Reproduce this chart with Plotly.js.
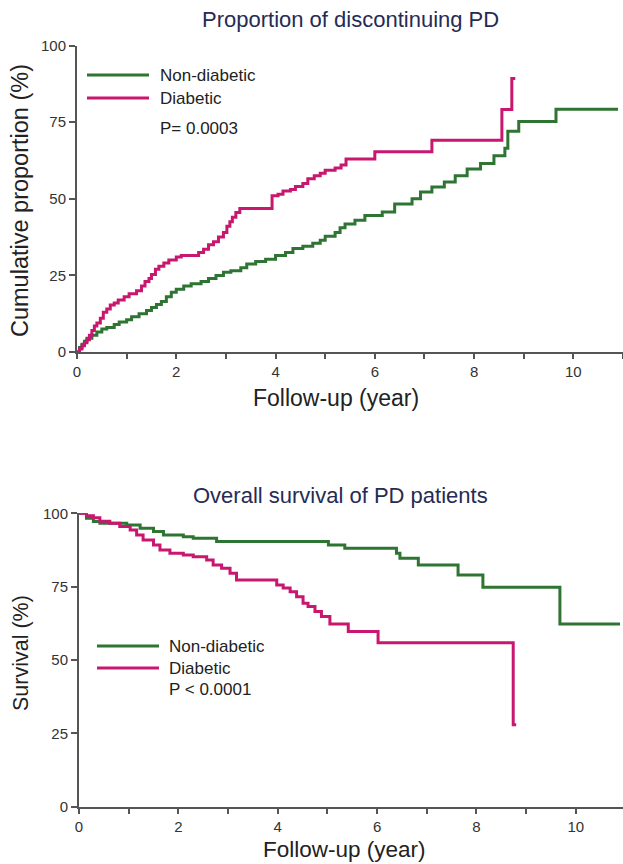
<!DOCTYPE html>
<html>
<head>
<meta charset="utf-8">
<script src="https://cdn.plot.ly/plotly-3.0.1.min.js"></script>
<style>html,body{margin:0;padding:0;background:#fff;}#chart{width:623px;height:864px;}</style>
</head>
<body>
<div id="chart"></div>
<script>
// ---- Top panel: cumulative proportion discontinuing PD (%) ----
var discNonDiabTime = [0,0.05,0.1,0.15,0.2,0.3,0.4,0.5,0.6,0.75,0.85,1.0,1.1,1.25,1.4,1.5,1.6,1.7,1.8,1.9,2.0,2.15,2.3,2.5,2.65,2.8,2.95,3.1,3.3,3.42,3.6,3.8,4.0,4.2,4.35,4.55,4.75,4.9,5.0,5.2,5.3,5.4,5.6,5.8,6.15,6.4,6.75,6.92,7.15,7.4,7.62,7.86,8.13,8.4,8.62,8.68,8.9,9.65,10.9];
var discNonDiabVal  = [0,1.5,2.5,3.5,4.5,5.5,6.5,7.5,8,9,9.8,10.5,11.5,12.5,13.5,14.5,15.5,16.5,18,19.5,20.5,21.5,22.3,23,24,25,26,26.5,27.5,28.7,29.5,30.3,31.5,32.5,33.8,34.5,35.5,36.5,37.8,39,40.5,41.8,43,44.5,45.7,48.3,50,52.2,53.8,55.5,57.5,59.7,61.5,64,66.5,72,75.2,79.2,79.2];

var discDiabTime = [0,0.05,0.1,0.15,0.2,0.25,0.3,0.35,0.4,0.47,0.53,0.6,0.67,0.75,0.83,0.95,1.05,1.2,1.3,1.37,1.45,1.5,1.58,1.65,1.75,1.85,2.0,2.1,2.45,2.55,2.65,2.75,2.85,2.95,3.02,3.08,3.13,3.2,3.28,3.93,4.05,4.15,4.3,4.4,4.55,4.65,4.78,4.9,5.0,5.2,5.32,5.42,6.0,7.15,8.56,8.76,8.83];
var discDiabVal  = [0,1,2,3,4,5.5,7,8.5,9.5,11,13,14,15.3,16,17,18,19,20,21.5,23,24,25.3,27,28,29,30,31,31.5,32.5,33.5,35,36,37.5,39,41,42.5,44,45.5,46.8,51,51.5,52.5,53,54,55,56.5,57.5,58.3,59.3,60,61,63,65.3,69.1,79.1,89.2,89.2];

// ---- Bottom panel: overall survival (%) ----
var survNonDiabTime = [0,0.15,0.29,0.42,0.96,1.23,1.5,1.7,2.1,2.3,2.77,5.02,5.35,6.39,6.46,6.83,7.63,8.13,9.68,10.89];
var survNonDiabVal  = [100,98.3,97.2,96.6,96,94.9,93.8,92.6,92,91.5,90.4,89.2,88.1,86.4,84.7,82.4,79,74.8,62.3,62.3];

var survDiabTime = [0,0.15,0.29,0.42,0.62,0.82,1.03,1.16,1.29,1.5,1.63,1.83,2.1,2.3,2.57,2.7,2.87,3.04,3.17,3.98,4.11,4.25,4.38,4.51,4.61,4.75,4.88,5.05,5.42,6.02,8.74,8.8];
var survDiabVal  = [100,99.2,98.5,97.3,96.6,95.5,94.3,92.6,90.9,89.2,87.5,86.4,85.8,85.2,84.1,82.4,81.3,79.6,77.3,75.6,74.5,73.3,71.6,69.3,68.2,66.5,64.8,62.3,59.7,55.9,27.9,27.9];

var seriesNames = ["Non-diabetic", "Diabetic"];
var xTickVals = [0,1,2,3,4,5,6,7,8,9,10,11];
var xTickText = ["0","","2","","4","","6","","8","","10",""];
var yTickVals = [0,25,50,75,100];
var yTickText = ["0","25","50","75","100"];
var titles = ["Proportion of discontinuing PD", "Overall survival of PD patients"];
var yTitles = ["Cumulative proportion (%)", "Survival (%)"];
var xTitle = "Follow-up (year)";
var pTexts = ["P= 0.0003", "P < 0.0001"];

var GREEN = "#2e7432";
var PINK = "#c9166f";
var FONT = "Liberation Sans, Arial, sans-serif";
var W = 623, H = 864;
function px(x){ return x / W; }
function py(y){ return (H - y) / H; }

function trace(x, y, color, xa, ya, name){
  return {x: x, y: y, type: "scatter", mode: "lines", name: name,
    line: {color: color, width: 3, shape: "hv"}, xaxis: xa, yaxis: ya,
    cliponaxis: false, showlegend: false, hoverinfo: "skip"};
}

var data = [
  trace(discNonDiabTime, discNonDiabVal, GREEN, "x", "y", seriesNames[0]),
  trace(discDiabTime, discDiabVal, PINK, "x", "y", seriesNames[1]),
  trace(survNonDiabTime, survNonDiabVal, GREEN, "x2", "y2", seriesNames[0]),
  trace(survDiabTime, survDiabVal, PINK, "x2", "y2", seriesNames[1])
];

function xaxis(domain, range, anchor){
  return {domain: domain, range: range, anchor: anchor, showgrid: false, zeroline: false,
    showline: true, linecolor: "#555", linewidth: 2, ticks: "outside", ticklen: 5, tickwidth: 2,
    tickcolor: "#555", tickmode: "array", tickvals: xTickVals, ticktext: xTickText,
    tickfont: {family: FONT, size: 15, color: "#333"}, fixedrange: true};
}
function yaxis(domain, anchor){
  return {domain: domain, range: [0, 100], anchor: anchor, showgrid: false, zeroline: false,
    showline: true, linecolor: "#555", linewidth: 2, ticks: "outside", ticklen: 6, tickwidth: 2,
    tickcolor: "#555", tickmode: "array", tickvals: yTickVals, ticktext: yTickText,
    tickfont: {family: FONT, size: 15, color: "#333"}, fixedrange: true};
}

var ann = [];
function txt(text, x, y, size, color, anchor, angle){
  ann.push({text: text, xref: "paper", yref: "paper", x: px(x), y: py(y),
    xanchor: anchor || "center", yanchor: "middle", showarrow: false, textangle: angle || 0,
    font: {family: FONT, size: size, color: color}});
}
txt(titles[0], 350, 20, 22, "#262b55");
txt(titles[1], 340, 495, 22, "#262b55");
txt(yTitles[0], 20, 201, 23.5, "#222", "center", -90);
txt(yTitles[1], 21, 653, 21.5, "#222", "center", -90);
txt(xTitle, 336, 398, 23, "#222");
txt(xTitle, 344, 849, 22.5, "#222");
// legends
txt(seriesNames[0], 158, 75, 17, "#222", "left");
txt(seriesNames[1], 158, 98, 17, "#222", "left");
txt(pTexts[0], 158, 128, 17, "#222", "left");
txt(seriesNames[0], 167, 646, 17, "#222", "left");
txt(seriesNames[1], 167, 668, 17, "#222", "left");
txt(pTexts[1], 167, 689, 17, "#222", "left");

function legLine(x0, x1, y, color){
  return {type: "line", xref: "paper", yref: "paper", x0: px(x0), x1: px(x1), y0: py(y), y1: py(y),
    line: {color: color, width: 3}};
}
var shapes = [
  legLine(87, 149, 75, GREEN), legLine(87, 149, 98, PINK),
  legLine(97, 159, 646, GREEN), legLine(97, 159, 668, PINK)
];

var layout = {
  width: W, height: H, margin: {l: 0, r: 0, t: 0, b: 0},
  paper_bgcolor: "#fff", plot_bgcolor: "rgba(0,0,0,0)", showlegend: false,
  xaxis: xaxis([px(77), 1], [0, 11.0], "y"),
  yaxis: yaxis([py(352), py(45.5)], "x"),
  xaxis2: xaxis([px(79), 1], [0, 10.95], "y2"),
  yaxis2: yaxis([py(806.7), py(513.3)], "x2"),
  annotations: ann, shapes: shapes
};

Plotly.newPlot("chart", data, layout, {displayModeBar: false, staticPlot: true});
</script>
</body>
</html>
